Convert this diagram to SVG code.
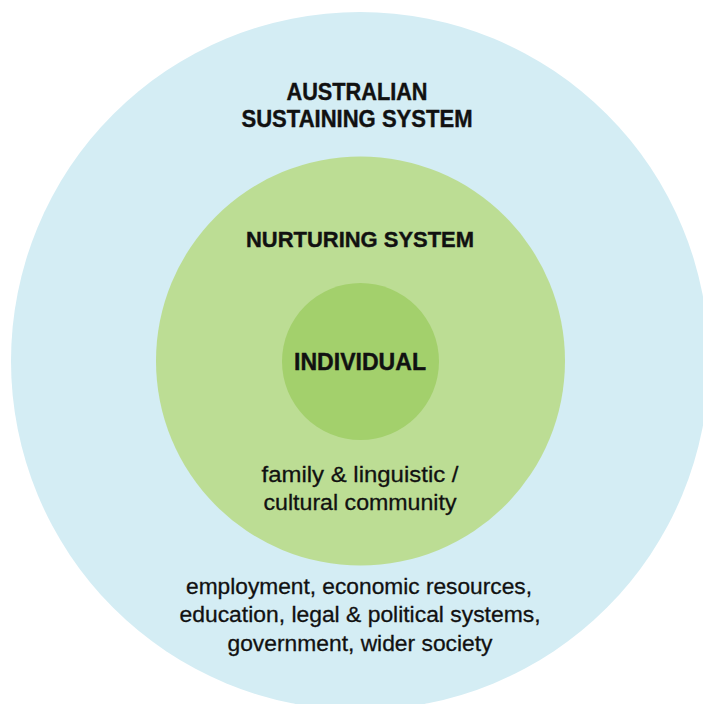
<svg xmlns="http://www.w3.org/2000/svg" width="703" height="704" viewBox="0 0 703 704">
  <style>
    .title { font-family: "Liberation Sans", Arial, sans-serif; font-weight: bold; fill: #111; stroke: #111; stroke-width: 0.4; text-anchor: middle; }
    .body { font-family: "Liberation Sans", Arial, sans-serif; fill: #111; stroke: #111; stroke-width: 0.3; text-anchor: middle; }
  </style>
  <rect width="703" height="704" fill="#ffffff"/>

  <!-- outer ring: Australian sustaining system -->
  <g id="sustaining">
    <circle cx="360" cy="361" r="349" fill="#d4edf4"/>
    <text class="title" x="357" y="100" font-size="23" textLength="141" lengthAdjust="spacingAndGlyphs">AUSTRALIAN</text>
    <text class="title" x="357" y="127" font-size="23" textLength="231" lengthAdjust="spacingAndGlyphs">SUSTAINING SYSTEM</text>
    <text class="body" x="359" y="594" font-size="22.5" textLength="346" lengthAdjust="spacingAndGlyphs">employment, economic resources,</text>
    <text class="body" x="360" y="622" font-size="22.5" textLength="361" lengthAdjust="spacingAndGlyphs">education, legal &amp; political systems,</text>
    <text class="body" x="360" y="651" font-size="22.5" textLength="265" lengthAdjust="spacingAndGlyphs">government, wider society</text>
  </g>

  <!-- middle ring: nurturing system -->
  <g id="nurturing">
    <circle cx="360.5" cy="361" r="204.5" fill="#bcdd94"/>
    <text class="title" x="360" y="247" font-size="22" textLength="228" lengthAdjust="spacingAndGlyphs">NURTURING SYSTEM</text>
    <text class="body" x="360" y="482" font-size="22.5" textLength="197" lengthAdjust="spacingAndGlyphs">family &amp; linguistic /</text>
    <text class="body" x="360" y="510" font-size="22.5" textLength="193" lengthAdjust="spacingAndGlyphs">cultural community</text>
  </g>

  <!-- centre: individual -->
  <g id="individual">
    <circle cx="360.5" cy="361.5" r="78.5" fill="#a3d06c"/>
    <text class="title" x="360" y="370" font-size="23" textLength="132" lengthAdjust="spacingAndGlyphs">INDIVIDUAL</text>
  </g>

  <g id="connectors"/>
</svg>
